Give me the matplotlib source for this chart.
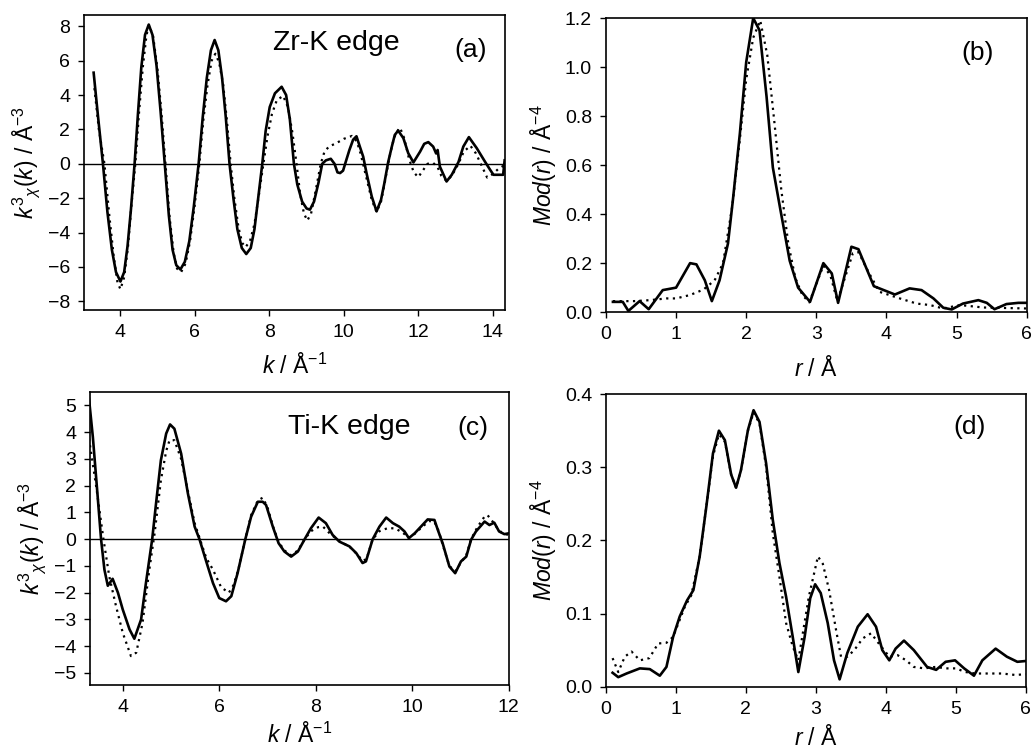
import matplotlib
matplotlib.use("Agg")
import matplotlib.pyplot as plt

plt.rcParams['font.family'] = ['Liberation Sans', 'DejaVu Sans']
plt.rcParams['mathtext.fontset'] = 'custom'
plt.rcParams['mathtext.rm'] = 'Liberation Sans'
plt.rcParams['mathtext.it'] = 'Liberation Sans:italic'

# (a) Zr-K edge, k^3 chi(k): experiment (solid) and fit (dotted)
k_a = [3.28, 3.40, 3.53, 3.65, 3.77, 3.88, 4.00, 4.10, 4.19, 4.28, 4.38, 4.47, 4.56, 4.66,
       4.76, 4.86, 4.97, 5.08, 5.19, 5.30, 5.40, 5.50, 5.61, 5.73, 5.85, 5.97, 6.10, 6.21,
       6.32, 6.43, 6.53, 6.63, 6.73, 6.83, 6.93, 7.04, 7.14, 7.26, 7.38, 7.50, 7.60, 7.70,
       7.81, 7.90, 8.01, 8.15, 8.33, 8.45, 8.55, 8.66, 8.75, 8.88, 9.00, 9.09, 9.20, 9.32,
       9.42, 9.52, 9.65, 9.75, 9.83, 9.90, 9.98, 10.05, 10.15, 10.25, 10.34, 10.43, 10.52,
       10.61, 10.75, 10.88, 11.00, 11.09, 11.19, 11.29, 11.37, 11.46, 11.60, 11.73, 11.87,
       12.05, 12.16, 12.27, 12.40, 12.48, 12.52, 12.58, 12.76, 12.90, 13.08, 13.21, 13.36,
       13.57, 13.79, 13.93, 14.02, 14.28, 14.32]
chi_a = [5.3, 2.7, 0.0, -2.8, -5.0, -6.3, -6.85, -6.3, -4.8, -2.7, 0.0, 2.9, 5.6, 7.5,
         8.1, 7.5, 5.7, 3.0, 0.0, -3.0, -5.0, -5.9, -6.15, -5.7, -4.5, -2.5, 0.0, 2.7,
         5.0, 6.6, 7.2, 6.6, 5.0, 2.7, 0.0, -2.1, -3.8, -4.9, -5.25, -4.9, -3.8, -2.0,
         0.0, 1.9, 3.3, 4.1, 4.48, 4.0, 2.6, 0.0, -1.2, -2.2, -2.6, -2.67, -2.2, -1.1,
         0.0, 0.2, 0.29, 0.0, -0.5, -0.54, -0.4, 0.1, 0.8, 1.4, 1.6, 1.0, 0.42,
         -0.54, -1.9, -2.77, -2.09, -1.12, 0.08, 1.0, 1.68, 1.93, 1.49, 0.62, 0.08,
         0.71, 1.16, 1.26, 1.0, 0.6, 0.8, -0.16, -1.03, -0.64, 0.1, 1.0, 1.55,
         0.91, 0.13, -0.35, -0.64, -0.64, 0.2]
k_a_fit = [3.30, 3.42, 3.57, 3.70, 3.82, 3.92, 4.00, 4.10, 4.20, 4.30, 4.40, 4.50, 4.60,
           4.70, 4.77, 4.88, 5.00, 5.10, 5.21, 5.32, 5.43, 5.52, 5.63, 5.75, 5.87, 5.99,
           6.12, 6.23, 6.34, 6.45, 6.55, 6.65, 6.76, 6.86, 6.96, 7.06, 7.17, 7.27, 7.36,
           7.48, 7.60, 7.72, 7.84, 7.95, 8.07, 8.20, 8.37, 8.50, 8.62, 8.73, 8.83, 8.93,
           9.02, 9.12, 9.25, 9.38, 9.48, 9.60, 9.80, 10.00, 10.22, 10.35, 10.45, 10.55,
           10.65, 10.75, 10.88, 11.00, 11.10, 11.20, 11.30, 11.40, 11.51, 11.62, 11.75,
           11.88, 12.00, 12.12, 12.25, 12.40, 12.52, 12.62, 12.76, 12.90, 13.08, 13.22,
           13.40, 13.55, 13.70, 13.85, 14.00, 14.15, 14.30]
chi_a_fit = [4.4, 2.0, 0.0, -3.0, -5.4, -6.9, -7.3, -6.6, -4.9, -2.3, 0.0, 3.0, 5.6,
             7.5, 8.05, 7.4, 5.4, 3.0, 0.0, -3.1, -5.2, -6.1, -6.3, -5.8, -4.5, -2.5,
             0.0, 2.6, 4.6, 6.0, 6.4, 5.9, 4.6, 2.5, 0.0, -2.0, -3.7, -4.6, -4.85,
             -4.5, -3.5, -1.8, 0.0, 1.6, 2.9, 3.7, 3.95, 3.3, 1.8, 0.0, -1.8, -2.9,
             -3.3, -2.9, -1.5, 0.0, 0.7, 1.0, 1.2, 1.45, 1.62, 1.3, 0.6, -0.3,
             -1.2, -2.1, -2.8, -2.2, -1.1, 0.1, 1.1, 1.8, 2.1, 1.5, 0.3,
             -0.5, -0.78, -0.4, 0.0, 0.05, -0.2, -0.7, -1.0, -0.7, 0.0, 0.7,
             1.05, 0.6, -0.1, -0.8, -0.6, -0.3, -0.1]

# (b) Zr-K edge Fourier transform modulus
r_b = [0.10, 0.24, 0.32, 0.48, 0.61, 0.81, 1.00, 1.20, 1.29, 1.41, 1.51, 1.62, 1.74,
       1.81, 1.91, 2.00, 2.10, 2.19, 2.29, 2.38, 2.48, 2.62, 2.74, 2.91, 3.10, 3.22,
       3.31, 3.50, 3.60, 3.82, 4.12, 4.33, 4.50, 4.67, 4.81, 4.93, 5.09, 5.31, 5.43,
       5.54, 5.71, 5.88, 6.00]
mod_b = [0.042, 0.042, 0.005, 0.045, 0.012, 0.09, 0.10, 0.20, 0.195, 0.13, 0.045, 0.13,
         0.28, 0.457, 0.73, 1.02, 1.20, 1.15, 0.88, 0.59, 0.43, 0.21, 0.10, 0.042, 0.20,
         0.158, 0.038, 0.267, 0.257, 0.106, 0.072, 0.097, 0.09, 0.056, 0.018, 0.011,
         0.035, 0.049, 0.038, 0.012, 0.033, 0.038, 0.038]
r_b_fit = [0.10, 0.40, 0.63, 0.86, 1.00, 1.20, 1.39, 1.55, 1.67, 1.80, 1.90, 2.00, 2.10,
           2.20, 2.30, 2.40, 2.50, 2.60, 2.70, 2.80, 2.90, 3.10, 3.20, 3.30, 3.52, 3.60,
           3.75, 3.90, 4.19, 4.43, 4.62, 4.81, 5.05, 5.38, 6.00]
mod_b_fit = [0.045, 0.045, 0.049, 0.056, 0.056, 0.07, 0.092, 0.13, 0.20, 0.43, 0.68, 0.95,
             1.12, 1.19, 1.05, 0.78, 0.50, 0.28, 0.14, 0.07, 0.04, 0.19, 0.15, 0.045,
             0.24, 0.245, 0.16, 0.083, 0.056, 0.035, 0.029, 0.015, 0.029, 0.019, 0.015]

# (c) Ti-K edge, k^3 chi(k)
k_c = [3.30, 3.38, 3.48, 3.55, 3.62, 3.69, 3.79, 3.90, 4.00, 4.14, 4.24, 4.38, 4.48,
       4.61, 4.69, 4.79, 4.90, 4.98, 5.07, 5.21, 5.35, 5.49, 5.59, 5.73, 5.87, 6.00,
       6.14, 6.25, 6.38, 6.54, 6.66, 6.80, 6.90, 6.97, 7.11, 7.23, 7.35, 7.49, 7.63,
       7.77, 7.90, 8.06, 8.21, 8.35, 8.49, 8.70, 8.84, 8.97, 9.04, 9.18, 9.32, 9.46,
       9.60, 9.73, 9.84, 9.93, 10.05, 10.18, 10.32, 10.46, 10.53, 10.63, 10.77, 10.89,
       11.01, 11.12, 11.22, 11.32, 11.50, 11.60, 11.70, 11.80, 11.91, 12.00]
chi_c = [5.25, 3.82, 1.59, 0.0, -1.14, -1.74, -1.48, -2.0, -2.63, -3.37, -3.72, -3.0, -1.64,
         0.0, 1.34, 2.95, 3.95, 4.29, 4.13, 3.2, 1.71, 0.47, 0.0, -0.83, -1.64, -2.2,
         -2.32, -2.13, -1.27, 0.0, 0.84, 1.4, 1.4, 1.28, 0.47, -0.15, -0.46, -0.65, -0.46,
         0.0, 0.41, 0.81, 0.6, 0.16, -0.09, -0.27, -0.52, -0.89, -0.83, 0.0, 0.47, 0.81,
         0.6, 0.47, 0.29, 0.04, 0.22, 0.47, 0.74, 0.72, 0.35, -0.15, -1.02, -1.27,
         -0.83, -0.65, -0.02, 0.29, 0.66, 0.53, 0.62, 0.29, 0.19, 0.22]
k_c_fit = [3.30, 3.45, 3.60, 3.72, 3.86, 4.00, 4.17, 4.28, 4.41, 4.55, 4.66, 4.79, 4.90,
           4.97, 5.07, 5.21, 5.35, 5.49, 5.60, 5.73, 5.87, 6.04, 6.20, 6.30, 6.40, 6.54,
           6.66, 6.80, 6.90, 7.00, 7.11, 7.23, 7.35, 7.49, 7.63, 7.77, 7.90, 8.05, 8.15,
           8.30, 8.50, 8.70, 8.85, 8.97, 9.05, 9.18, 9.32, 9.50, 9.65, 9.80, 9.93, 10.05,
           10.20, 10.35, 10.46, 10.55, 10.63, 10.77, 10.89, 11.00, 11.12, 11.22, 11.35,
           11.50, 11.56, 11.65, 11.75, 11.85, 12.00]
chi_c_fit = [3.76, 1.96, 0.0, -1.39, -2.5, -3.5, -4.37, -4.24, -3.13, -1.14, 0.22, 2.2, 3.3,
             3.7, 3.7, 3.0, 1.8, 0.6, 0.0, -0.7, -1.14, -1.8, -2.0, -1.7, -1.1, 0.0,
             0.9, 1.45, 1.55, 1.2, 0.5, -0.1, -0.42, -0.6, -0.42, 0.0, 0.3, 0.45, 0.47,
             0.2, -0.08, -0.28, -0.55, -0.8, -0.75, 0.0, 0.3, 0.42, 0.4, 0.25, 0.05, 0.2,
             0.45, 0.68, 0.65, 0.3, -0.2, -1.0, -1.2, -0.9, -0.6, 0.0, 0.45,
             0.85, 0.9, 0.7, 0.45, 0.25, 0.15]

# (d) Ti-K edge Fourier transform modulus
r_d = [0.095, 0.176, 0.295, 0.485, 0.627, 0.77, 0.865, 0.96, 1.055, 1.16, 1.25, 1.34,
       1.435, 1.53, 1.615, 1.70, 1.79, 1.86, 1.93, 2.03, 2.11, 2.195, 2.29, 2.385, 2.48,
       2.575, 2.67, 2.75, 2.84, 2.92, 2.99, 3.07, 3.17, 3.26, 3.34, 3.45, 3.60, 3.74,
       3.86, 3.95, 4.05, 4.14, 4.26, 4.40, 4.59, 4.72, 4.855, 4.99, 5.12, 5.26, 5.38,
       5.57, 5.73, 5.88, 5.99]
mod_d = [0.019, 0.013, 0.018, 0.025, 0.024, 0.015, 0.027, 0.068, 0.096, 0.118, 0.132, 0.178,
         0.246, 0.319, 0.35, 0.337, 0.29, 0.272, 0.296, 0.351, 0.378, 0.362, 0.305, 0.228,
         0.169, 0.123, 0.068, 0.02, 0.068, 0.121, 0.14, 0.128, 0.087, 0.036, 0.01, 0.046,
         0.082, 0.099, 0.082, 0.05, 0.036, 0.052, 0.063, 0.05, 0.027, 0.023, 0.034, 0.036,
         0.025, 0.015, 0.036, 0.052, 0.041, 0.034, 0.035]
r_d_fit = [0.095, 0.176, 0.27, 0.366, 0.485, 0.62, 0.746, 0.865, 0.96, 1.126, 1.22, 1.34,
           1.435, 1.53, 1.615, 1.70, 1.79, 1.86, 1.93, 2.03, 2.11, 2.195, 2.29, 2.385,
           2.48, 2.575, 2.67, 2.75, 2.90, 3.03, 3.10, 3.19, 3.29, 3.36, 3.45, 3.55, 3.67,
           3.79, 3.90, 4.05, 4.17, 4.29, 4.40, 4.55, 4.71, 4.86, 5.00, 5.14, 5.28, 5.47,
           5.66, 5.85, 6.00]
mod_d_fit = [0.039, 0.02, 0.041, 0.048, 0.036, 0.039, 0.059, 0.06, 0.068, 0.109, 0.125, 0.178,
             0.246, 0.315, 0.345, 0.335, 0.29, 0.272, 0.296, 0.35, 0.375, 0.36, 0.30, 0.21,
             0.15, 0.087, 0.055, 0.036, 0.123, 0.178, 0.168, 0.132, 0.077, 0.041, 0.041,
             0.05, 0.066, 0.073, 0.059, 0.041, 0.043, 0.036, 0.027, 0.025, 0.027, 0.025,
             0.025, 0.02, 0.018, 0.018, 0.018, 0.016, 0.017]

fig = plt.figure(figsize=(10.34, 7.54), dpi=100)
ax_a = fig.add_axes([0.0812, 0.589, 0.4072, 0.391])
ax_b = fig.add_axes([0.586, 0.586, 0.407, 0.390])
ax_c = fig.add_axes([0.087, 0.0915, 0.405, 0.3885])
ax_d = fig.add_axes([0.586, 0.0893, 0.406, 0.388])

solid = dict(color='black', lw=1.9)
dots = dict(color='black', lw=1.6, linestyle=(0, (1, 2)))
tick_fs = 14
lab_fs = 16.5
big_fs = 19

ax_a.plot(k_a, chi_a, **solid)
ax_a.plot(k_a_fit, chi_a_fit, **dots)
ax_a.axhline(0, color='black', lw=1)
ax_a.set_xlim(3.02, 14.33)
ax_a.set_ylim(-8.5, 8.65)
ax_a.set_xticks([4, 6, 8, 10, 12, 14])
ax_a.set_yticks(range(-8, 9, 2))
ax_a.set_xlabel(r'$k$ / Å$^{-1}$', fontsize=lab_fs, labelpad=9)
ax_a.set_ylabel(r'$k^{3}{}_{\chi}(k)$ / Å$^{-3}$', fontsize=lab_fs, labelpad=4)
ax_a.text(0.6, 0.905, 'Zr-K edge', transform=ax_a.transAxes, fontsize=20.5, ha='center', va='center')
ax_a.text(0.918, 0.88, '(a)', transform=ax_a.transAxes, fontsize=big_fs, ha='center', va='center')

ax_b.plot(r_b, mod_b, **solid)
ax_b.plot(r_b_fit, mod_b_fit, **dots)
ax_b.set_xlim(0, 6)
ax_b.set_ylim(0, 1.2)
ax_b.set_yticks([0.0, 0.2, 0.4, 0.6, 0.8, 1.0, 1.2])
ax_b.set_yticklabels(['0.0', '0.2', '0.4', '0.6', '0.8', '1.0', '1.2'])
ax_b.set_xlabel(r'$r$ / Å', fontsize=lab_fs, labelpad=9)
ax_b.set_ylabel(r'$Mod(r)$ / Å$^{-4}$', fontsize=lab_fs, labelpad=4)
ax_b.text(0.884, 0.88, '(b)', transform=ax_b.transAxes, fontsize=big_fs, ha='center', va='center')

ax_c.plot(k_c, chi_c, **solid)
ax_c.plot(k_c_fit, chi_c_fit, **dots)
ax_c.axhline(0, color='black', lw=1)
ax_c.set_xlim(3.32, 12)
ax_c.set_ylim(-5.45, 5.5)
ax_c.set_xticks([4, 6, 8, 10, 12])
ax_c.set_yticks(range(-5, 6))
ax_c.set_xlabel(r'$k$ / Å$^{-1}$', fontsize=lab_fs, labelpad=5)
ax_c.set_ylabel(r'$k^{3}{}_{\chi}(k)$ / Å$^{-3}$', fontsize=lab_fs, labelpad=4)
ax_c.text(0.62, 0.88, 'Ti-K edge', transform=ax_c.transAxes, fontsize=20.5, ha='center', va='center')
ax_c.text(0.914, 0.877, '(c)', transform=ax_c.transAxes, fontsize=big_fs, ha='center', va='center')

ax_d.plot(r_d, mod_d, **solid)
ax_d.plot(r_d_fit, mod_d_fit, **dots)
ax_d.set_xlim(0, 6)
ax_d.set_ylim(0, 0.4)
ax_d.set_yticks([0.0, 0.1, 0.2, 0.3, 0.4])
ax_d.set_yticklabels(['0.0', '0.1', '0.2', '0.3', '0.4'])
ax_d.set_xlabel(r'$r$ / Å', fontsize=lab_fs, labelpad=5)
ax_d.set_ylabel(r'$Mod(r)$ / Å$^{-4}$', fontsize=lab_fs, labelpad=4)
ax_d.text(0.867, 0.887, '(d)', transform=ax_d.transAxes, fontsize=big_fs, ha='center', va='center')

for ax in (ax_a, ax_b, ax_c, ax_d):
    ax.tick_params(direction='out', length=4, width=1, labelsize=tick_fs, pad=6,
                   top=False, right=False)
    for s in ax.spines.values():
        s.set_linewidth(1.2)

fig.savefig('out.png', dpi=100)
